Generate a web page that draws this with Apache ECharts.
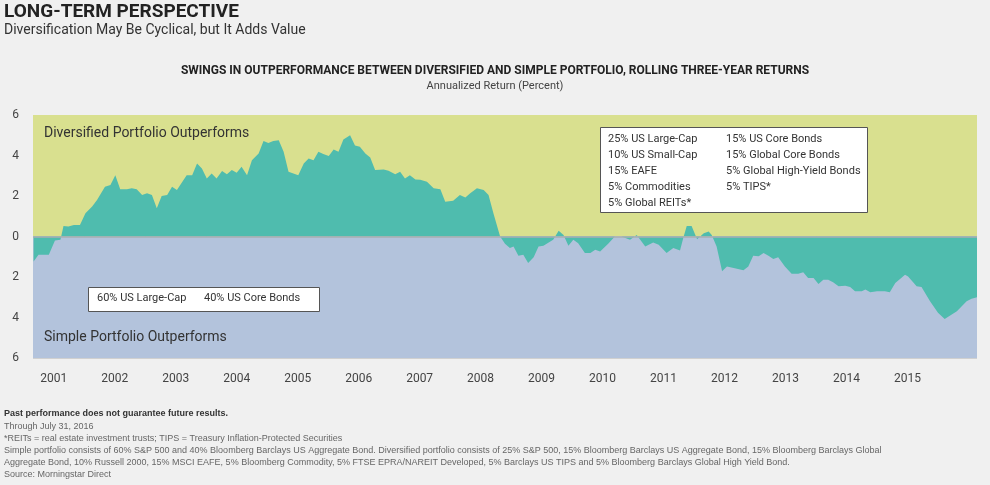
<!DOCTYPE html>
<html>
<head>
<meta charset="utf-8">
<script src="https://cdn.jsdelivr.net/npm/echarts@6/dist/echarts.min.js"></script>
<style>
  html, body { margin: 0; padding: 0; background: #f0f0f0; }
  #chart { width: 990px; height: 485px; }
</style>
</head>
<body>
<div id="chart"></div>
<script>
// decimal year of each reading (rolling 3-yr window end)
var years = [
  2001.17, 2001.25, 2001.42, 2001.52, 2001.61, 2001.66, 2001.74, 2001.83, 2001.93,
  2002.02, 2002.13, 2002.21, 2002.34, 2002.43, 2002.51, 2002.59, 2002.70, 2002.78, 2002.86, 2002.95,
  2003.03, 2003.11, 2003.19, 2003.27, 2003.36, 2003.44, 2003.52, 2003.68, 2003.77, 2003.85, 2003.93,
  2004.01, 2004.09, 2004.17, 2004.26, 2004.34, 2004.42, 2004.50, 2004.58, 2004.67, 2004.75, 2004.86, 2004.94,
  2005.02, 2005.10, 2005.19, 2005.27, 2005.35, 2005.43, 2005.51, 2005.60, 2005.68, 2005.76, 2005.84, 2005.92,
  2006.01, 2006.09, 2006.17, 2006.25, 2006.36, 2006.44, 2006.52, 2006.61, 2006.69, 2006.77, 2006.91, 2006.99,
  2007.10, 2007.18, 2007.26, 2007.34, 2007.43, 2007.51, 2007.62, 2007.73, 2007.84, 2007.92,
  2008.05, 2008.16, 2008.25, 2008.33, 2008.44, 2008.55, 2008.63, 2008.71, 2008.82, 2008.90, 2008.98, 2009.04,
  2009.12, 2009.20, 2009.28, 2009.37, 2009.45, 2009.53, 2009.69, 2009.78, 2009.86, 2009.94,
  2010.02, 2010.10, 2010.21, 2010.30, 2010.38, 2010.46, 2010.60, 2010.70, 2010.81, 2010.95,
  2011.06, 2011.20, 2011.33, 2011.42, 2011.55, 2011.66, 2011.77, 2011.83, 2011.88, 2011.96,
  2012.05, 2012.16, 2012.24, 2012.29, 2012.37, 2012.46, 2012.54, 2012.65, 2012.81, 2012.89, 2012.97,
  2013.06, 2013.14, 2013.22, 2013.30, 2013.38, 2013.49, 2013.60, 2013.71, 2013.79, 2013.87, 2013.96,
  2014.04, 2014.12, 2014.20, 2014.28, 2014.37, 2014.48, 2014.56, 2014.64, 2014.75, 2014.81, 2014.89,
  2015.00, 2015.13, 2015.21, 2015.30, 2015.46, 2015.51, 2015.65, 2015.73, 2015.87,
  2016.00, 2016.11, 2016.31, 2016.47, 2016.55, 2016.64
];
// diversified minus simple, annualized return (percent)
var excess = [
  -1.23, -0.9, -0.9, -0.2, -0.16, 0.52, 0.5, 0.57, 0.57,
  1.15, 1.48, 1.8, 2.46, 2.54, 3.03, 2.33, 2.33, 2.38, 2.33, 2.05,
  2.13, 2.05, 1.39, 2.0, 2.05, 2.46, 2.3, 3.03, 3.03, 3.6, 3.36,
  2.87, 3.11, 2.87, 3.23, 3.08, 3.28, 3.15, 3.44, 3.03, 3.77, 4.1, 4.72,
  4.62, 4.72, 4.75, 4.18, 3.2, 3.11, 3.03, 3.6, 3.85, 3.77, 4.18, 4.07,
  3.97, 4.3, 4.18, 4.79, 5.0, 4.5, 4.43, 4.1, 3.9, 3.28, 3.31, 3.25,
  3.08, 3.2, 2.87, 3.03, 2.82, 2.8, 2.7, 2.38, 2.33, 1.72,
  1.77, 2.05, 1.93, 2.13, 2.38, 2.3, 2.05, 1.15, 0, -0.36, -0.57, -0.49,
  -0.95, -0.9, -1.31, -1.02, -0.49, -0.46, -0.16, 0.28, 0.08, -0.46,
  -0.16, -0.33, -0.82, -0.82, -0.66, -0.74, -0.33, 0, 0, -0.16,
  0.08, -0.49, -0.3, -0.41, -0.82, -0.57, -0.69, 0, 0.52, 0.52,
  -0.13, 0.16, 0.25, 0.08, -0.49, -1.72, -1.48, -1.56, -1.67, -1.48, -0.95,
  -0.98, -0.82, -0.95, -1.11, -1.02, -1.48, -1.84, -1.84, -1.77, -2.05, -2.05,
  -2.34, -2.13, -2.13, -2.26, -2.46, -2.43, -2.49, -2.7, -2.7, -2.62, -2.75,
  -2.7, -2.7, -2.75, -2.3, -1.89, -1.97, -2.46, -2.49, -3.2,
  -3.77, -4.07, -3.69, -3.2, -3.07, -3.0
];
var yearLabels = ['2001','2002','2003','2004','2005','2006','2007','2008','2009','2010','2011','2012','2013','2014','2015'];
var yTicks = [-6, -4, -2, 0, 2, 4, 6];

var labelPos = yearLabels.map(function (y) { return +y + 0.5; });
var tickPos = yearLabels.slice(1).map(function (y) { return +y; }).concat([2016]);

var chart = echarts.init(document.getElementById('chart'));
var ff = 'Roboto, "Liberation Sans", sans-serif';
var note = '#666';

chart.setOption({
  backgroundColor: '#f0f0f0',
  animation: false,
  grid: { left: 33, right: 13, top: 115, bottom: 127 },
  xAxis: {
    type: 'value', min: 2001.16, max: 2016.64,
    axisLine: { show: false },
    splitLine: { show: false },
    axisTick: { show: true, customValues: tickPos, length: 9, lineStyle: { color: '#999' } },
    axisLabel: {
      customValues: labelPos, margin: 15, color: '#444', fontSize: 12, fontFamily: ff,
      formatter: function (v) { return String(Math.floor(v)); }
    }
  },
  yAxis: {
    type: 'value', min: -6, max: 6, interval: 2,
    axisLine: { show: false }, axisTick: { show: false },
    axisLabel: {
      color: '#444', fontSize: 12, fontFamily: ff, margin: 14,
      formatter: function (v) { return yTicks.indexOf(v) >= 0 ? String(Math.abs(v)) : ''; }
    },
    splitLine: { lineStyle: { color: 'rgba(150,150,150,0.35)', width: 1 } }
  },
  series: [{
    type: 'line',
    data: years.map(function (y, i) { return [y, excess[i]]; }),
    symbol: 'none',
    lineStyle: { width: 0 },
    areaStyle: { color: '#4fbcae', opacity: 1, origin: 0 },
    z: 3,
    markArea: {
      silent: true,
      data: [
        [{ yAxis: 0, itemStyle: { color: '#d9e08f' } }, { yAxis: 6 }],
        [{ yAxis: -6, itemStyle: { color: '#b3c3dc' } }, { yAxis: 0 }]
      ]
    },
    markLine: {
      silent: true, symbol: 'none', label: { show: false },
      lineStyle: { color: '#a9aeb2', type: 'solid', width: 1.5 },
      data: [{ yAxis: 0 }]
    }
  }],
  graphic: [
    { type: 'text', left: 4, top: 3, style: { text: 'LONG-TERM PERSPECTIVE', font: 'bold 19px ' + ff, fill: '#222' } },
    { type: 'text', left: 4, top: 23, style: { text: 'Diversification May Be Cyclical, but It Adds Value', font: '14px ' + ff, fill: '#333' } },
    { type: 'text', left: 'center', top: 65, style: { text: 'SWINGS IN OUTPERFORMANCE BETWEEN DIVERSIFIED AND SIMPLE PORTFOLIO, ROLLING THREE-YEAR RETURNS', font: 'bold 12px ' + ff, fill: '#222' } },
    { type: 'text', left: 'center', top: 81, style: { text: 'Annualized Return (Percent)', font: '11px ' + ff, fill: '#444' } },
    { type: 'text', left: 44, top: 126, z: 10, style: { text: 'Diversified Portfolio Outperforms', font: '14px ' + ff, fill: '#333' } },
    { type: 'text', left: 44, top: 330, z: 10, style: { text: 'Simple Portfolio Outperforms', font: '14px ' + ff, fill: '#333' } },
    { type: 'rect', left: 88, top: 287, z: 10, shape: { width: 231, height: 24 }, style: { fill: '#fff', stroke: '#555', lineWidth: 1 } },
    { type: 'text', left: 97, top: 293, z: 11, style: { text: '60% US Large-Cap', font: '11px ' + ff, fill: '#333' } },
    { type: 'text', left: 204, top: 293, z: 11, style: { text: '40% US Core Bonds', font: '11px ' + ff, fill: '#333' } },
    { type: 'rect', left: 600, top: 127, z: 10, shape: { width: 267, height: 85 }, style: { fill: '#fff', stroke: '#555', lineWidth: 1 } },
    { type: 'text', left: 608, top: 131, z: 11, style: { text: '25% US Large-Cap\n10% US Small-Cap\n15% EAFE\n5% Commodities\n5% Global REITs*', font: '11px ' + ff, fill: '#333', lineHeight: 16 } },
    { type: 'text', left: 726, top: 131, z: 11, style: { text: '15% US Core Bonds\n15% Global Core Bonds\n5% Global High-Yield Bonds\n5% TIPS*', font: '11px ' + ff, fill: '#333', lineHeight: 16 } },
    { type: 'text', left: 4, top: 409, style: { text: 'Past performance does not guarantee future results.', font: 'bold 9px "Liberation Sans", sans-serif', fill: '#333' } },
    { type: 'text', left: 4, top: 421, style: {
      text: 'Through July 31, 2016\n*REITs = real estate investment trusts; TIPS = Treasury Inflation-Protected Securities\nSimple portfolio consists of 60% S&P 500 and 40% Bloomberg Barclays US Aggregate Bond. Diversified portfolio consists of 25% S&P 500, 15% Bloomberg Barclays US Aggregate Bond, 15% Bloomberg Barclays Global\nAggregate Bond, 10% Russell 2000, 15% MSCI EAFE, 5% Bloomberg Commodity, 5% FTSE EPRA/NAREIT Developed, 5% Barclays US TIPS and 5% Bloomberg Barclays Global High Yield Bond.\nSource: Morningstar Direct',
      font: '9px "Liberation Sans", sans-serif', fill: note, lineHeight: 12 } }
  ]
});
</script>
</body>
</html>
